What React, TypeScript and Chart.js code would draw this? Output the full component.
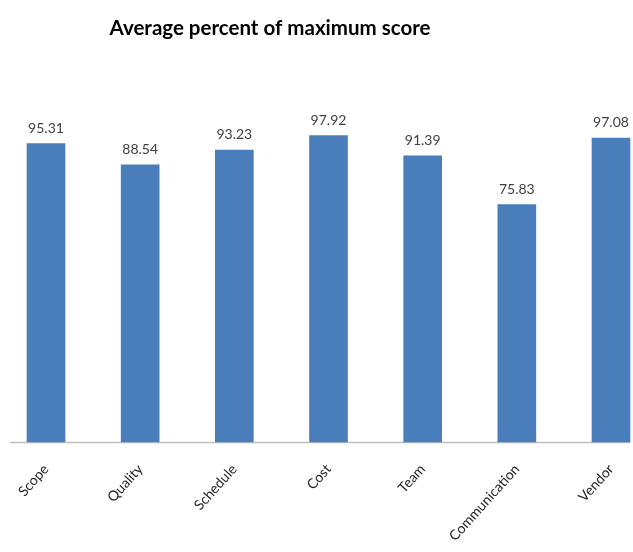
import React, { useEffect, useRef } from "react";
import { Chart, registerables } from "chart.js";

Chart.register(...registerables);

const categories = ["Scope", "Quality", "Schedule", "Cost", "Team", "Communication", "Vendor"];
const values = [95.31, 88.54, 93.23, 97.92, 91.39, 75.83, 97.08];
const valueLabels = ["95.31", "88.54", "93.23", "97.92", "91.39", "75.83", "97.08"];
const titleText = "Average percent of maximum score";

const FONT = "Lato, 'Open Sans', sans-serif";

const titlePlugin = {
  id: "customTitle",
  afterDraw(chart: any) {
    const ctx = chart.ctx;
    ctx.save();
    ctx.font = `bold 20.5px ${FONT}`;
    ctx.fillStyle = "#000000";
    ctx.textAlign = "center";
    ctx.textBaseline = "middle";
    ctx.fillText(titleText, 270, 28);
    ctx.restore();
  },
};

const baselinePlugin = {
  id: "baseline",
  beforeDatasetsDraw(chart: any) {
    const ctx = chart.ctx;
    const y = Math.round(chart.chartArea.bottom) + 0.5;
    ctx.save();
    ctx.strokeStyle = "#BFBFBF";
    ctx.lineWidth = 1.5;
    ctx.beginPath();
    ctx.moveTo(10, y);
    ctx.lineTo(630, y);
    ctx.stroke();
    ctx.restore();
  },
};

const valueLabelPlugin = {
  id: "valueLabels",
  afterDatasetsDraw(chart: any) {
    const ctx = chart.ctx;
    const meta = chart.getDatasetMeta(0);
    ctx.save();
    ctx.font = `14px ${FONT}`;
    ctx.fillStyle = "#404040";
    ctx.textAlign = "center";
    ctx.textBaseline = "alphabetic";
    meta.data.forEach((bar: any, i: number) => {
      ctx.fillText(valueLabels[i], bar.x, bar.y - 11);
    });
    ctx.restore();
  },
};

export default function App() {
  const ref = useRef<HTMLCanvasElement | null>(null);

  useEffect(() => {
    if (!ref.current) return;
    const chart = new Chart(ref.current, {
      type: "bar",
      data: {
        labels: categories,
        datasets: [
          {
            data: values,
            backgroundColor: "#4A7EBB",
            borderWidth: 0,
            barThickness: 38,
            clip: false,
          } as any,
        ],
      },
      options: {
        responsive: false,
        animation: false,
        layout: { padding: { left: 46, right: 22, top: 129, bottom: 0 } },
        plugins: {
          legend: { display: false },
          title: { display: false },
          tooltip: { enabled: false },
        },
        scales: {
          x: {
            offset: false,
            grid: { display: false, drawTicks: false },
            border: { display: false },
            ticks: {
              minRotation: 48,
              maxRotation: 48,
              padding: 19,
              color: "#262626",
              font: { family: FONT, size: 14 },
            },
            afterFit: (scale: any) => {
              scale.height = 110;
              scale.paddingLeft = 0;
              scale.paddingRight = 0;
            },
          },
          y: {
            display: false,
            min: 0,
            max: 100,
          },
        },
      },
      plugins: [titlePlugin, baselinePlugin, valueLabelPlugin],
    });
    return () => chart.destroy();
  }, []);

  return (
    <div style={{ position: "fixed", left: 0, top: 0, width: 633, height: 552, background: "#ffffff" }}>
      <canvas ref={ref} width={633} height={552} style={{ display: "block" }} />
    </div>
  );
}
